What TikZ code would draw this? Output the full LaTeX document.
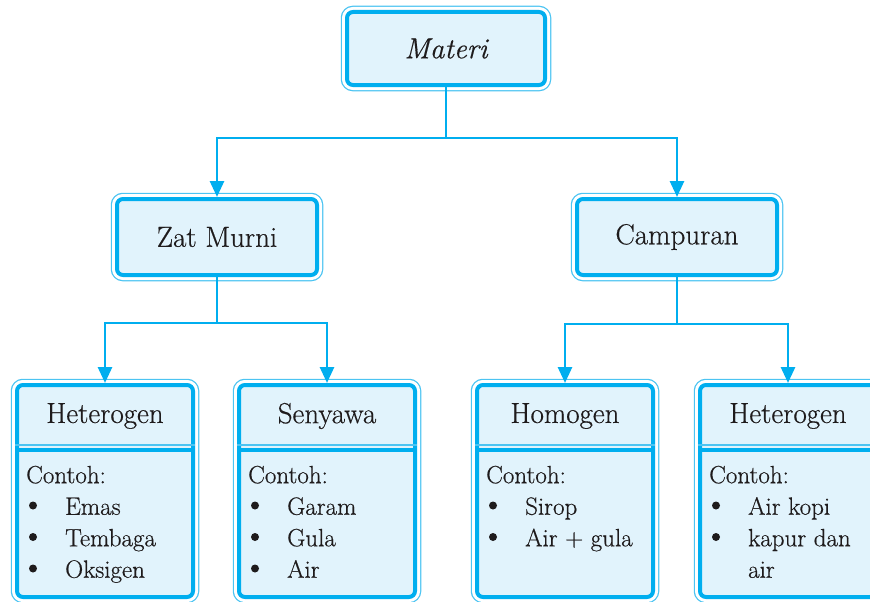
\documentclass[tikz,border=0pt]{standalone}
\usepackage{fontspec}
\usetikzlibrary{arrows.meta}
\newfontfamily\mainf{Latin Modern Roman}[FakeBold=0.45]
\definecolor{cy}{HTML}{00AEEF}
\definecolor{cyl}{HTML}{4CC4F2}
\definecolor{fillb}{HTML}{E1F3FC}
\definecolor{ink}{HTML}{1E1B1C}
\newcommand\titlefnt{\mainf\fontsize{29}{34}\selectfont}
\newcommand\bodyfnt{\mainf\fontsize{25}{31.5}\selectfont}
\newcommand\bl{\hspace*{39pt}}
\begin{document}
\begin{tikzpicture}[x=1pt,y=-1pt,
  box/.style={draw=cy, line width=4pt, fill=fillb, rounded corners=6pt, inner sep=0pt,
    preaction={draw=cyl, line width=12.5pt},
    preaction={draw=white, line width=10pt}},
  title/.style={font=\titlefnt, text=ink, inner sep=0pt},
  body/.style={font=\bodyfnt, text=ink, inner sep=0pt, anchor=north west},
  conn/.style={draw=cy, line width=2.8pt},
  arr/.style={conn, -{Triangle[width=14pt,length=16pt]}},
  divthin/.style={draw=cyl, line width=1.2pt},
  divthick/.style={draw=cy, line width=3.5pt},
  dot/.style={fill=ink}]
\useasboundingbox (0,0) rectangle (870,602);
\clip (0,0) rectangle (870,602);

% level 0 and 1
\node[box, minimum width=198pt, minimum height=73pt, title, font=\titlefnt\itshape] (materi) at (446,48.5) {Materi};
\node[box, minimum width=200pt, minimum height=76pt, title] (zat) at (217,237) {Zat Murni};
\node[box, minimum width=200pt, minimum height=76pt, title] (camp) at (677,237) {Campuran};

% level 2 boxes
\node[box, minimum width=176pt, minimum height=212pt] (b1) at (105,491) {};
\node[box, minimum width=176pt, minimum height=212pt] (b2) at (327,491) {};
\node[box, minimum width=176pt, minimum height=212pt] (b3) at (565,491) {};
\node[box, minimum width=176pt, minimum height=212pt] (b4) at (788,491) {};

\foreach \b in {b1,b2,b3,b4}{
  \draw[divthin] ([yshift=-62pt]\b.north west) -- ([yshift=-62pt]\b.north east);
  \draw[divthick] ([yshift=-67pt]\b.north west) -- ([yshift=-67pt]\b.north east);
}

\node[title] (b1t) at (105,416) {Heterogen};
\node[title] (b2t) at (327,416) {Senyawa};
\node[title] (b3t) at (565,416) {Homogen};
\node[title] (b4t) at (788,416) {Heterogen};

\node[body] (b1c) at (26,461) {\begin{tabular}{@{}l@{}}Contoh:\\ \bl Emas\\ \bl Tembaga\\ \bl Oksigen\end{tabular}};
\node[body] (b2c) at (248,461) {\begin{tabular}{@{}l@{}}Contoh:\\ \bl Garam\\ \bl Gula\\ \bl Air\end{tabular}};
\node[body] (b3c) at (486,461) {\begin{tabular}{@{}l@{}}Contoh:\\ \bl Sirop\\ \bl Air + gula\end{tabular}};
\node[body] (b4c) at (709,461) {\begin{tabular}{@{}l@{}}Contoh:\\ \bl Air kopi\\ \bl kapur dan\\ \bl air\end{tabular}};

% bullets
\foreach \x/\n in {33/3, 255/3, 493/2, 716/2}{
  \foreach \k in {1,...,\n}{
    \fill[dot] (\x, 474+31.5*\k) circle (4);
  }
}

% connectors
\coordinate (j0) at (446,138);
\coordinate (j1) at (217,323);
\coordinate (j2) at (677,324);
\draw[conn] (materi.south) -- (j0);
\draw[arr] (j0) -| (zat.north);
\draw[arr] (j0) -| (camp.north);
\draw[conn] (zat.south) -- (j1);
\draw[arr] (j1) -| (b1.north);
\draw[arr] (j1) -| (b2.north);
\draw[conn] (camp.south) -- (j2);
\draw[arr] (j2) -| (b3.north);
\draw[arr] (j2) -| (b4.north);
\end{tikzpicture}
\end{document}
